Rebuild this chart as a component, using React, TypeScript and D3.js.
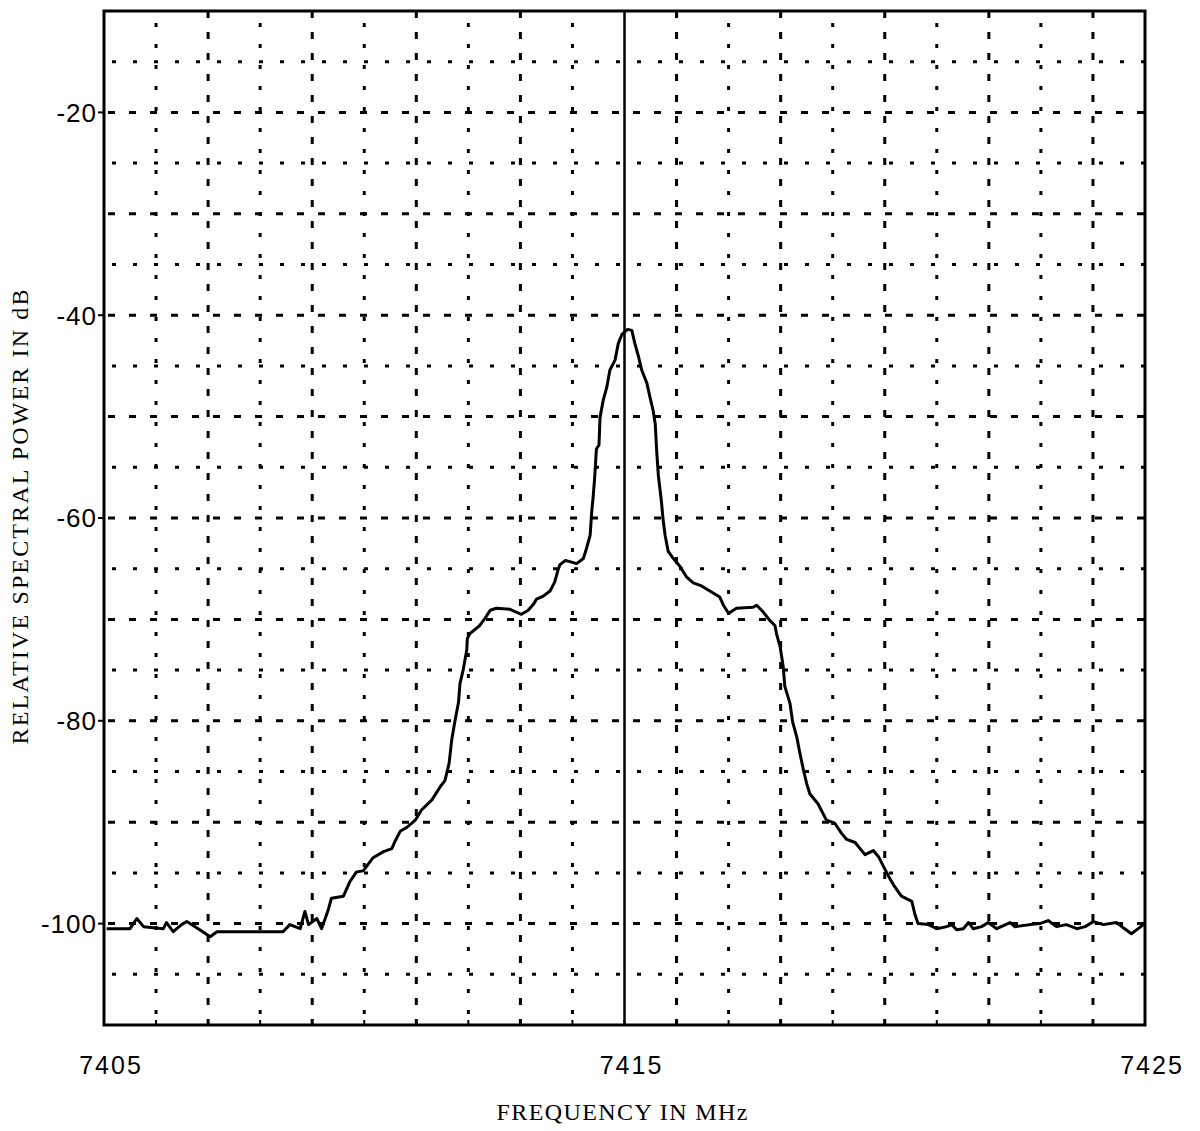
import React from "react";
import * as d3 from "d3";

const freqs: number[] = [
  7405.05, 7405.5, 7405.63, 7405.76, 7406.14, 7406.2, 7406.33, 7406.49, 7406.59, 7406.84,
  7407.04, 7407.17, 7407.48, 7407.93, 7408.44, 7408.57, 7408.77, 7408.86, 7408.93, 7409.09,
  7409.18, 7409.25, 7409.31, 7409.37, 7409.6, 7409.72, 7409.85, 7409.98, 7410.17, 7410.37,
  7410.53, 7410.59, 7410.69, 7410.82, 7410.98, 7411.1, 7411.3, 7411.46, 7411.55, 7411.63,
  7411.68, 7411.74, 7411.81, 7411.84, 7411.9, 7411.97, 7411.98, 7412.03, 7412.22, 7412.32,
  7412.42, 7412.54, 7412.8, 7412.93, 7413.02, 7413.15, 7413.25, 7413.31, 7413.44, 7413.57,
  7413.66, 7413.73, 7413.76, 7413.86, 7413.95, 7414.08, 7414.21, 7414.27, 7414.34, 7414.37,
  7414.4, 7414.43, 7414.46, 7414.51, 7414.53, 7414.59, 7414.66, 7414.72, 7414.82, 7414.88,
  7414.95, 7415.06, 7415.14, 7415.2, 7415.27, 7415.33, 7415.43, 7415.49, 7415.55, 7415.59,
  7415.62, 7415.65, 7415.71, 7415.74, 7415.78, 7415.84, 7415.94, 7416.07, 7416.19, 7416.32,
  7416.48, 7416.64, 7416.83, 7416.9, 7417.0, 7417.15, 7417.47, 7417.54, 7417.67, 7417.79,
  7417.89, 7417.92, 7417.99, 7418.05, 7418.08, 7418.18, 7418.23, 7418.31, 7418.37, 7418.44,
  7418.5, 7418.56, 7418.72, 7418.82, 7418.88, 7419.04, 7419.17, 7419.27, 7419.43, 7419.62,
  7419.78, 7419.88, 7420.0, 7420.07, 7420.17, 7420.32, 7420.52, 7420.58, 7420.64, 7420.84,
  7421.0, 7421.19, 7421.29, 7421.38, 7421.51, 7421.61, 7421.7, 7421.86, 7421.99, 7422.15,
  7422.41, 7422.5, 7422.79, 7422.98, 7423.14, 7423.3, 7423.49, 7423.69, 7423.85, 7424.01,
  7424.2, 7424.45, 7424.61, 7424.74, 7424.87, 7424.97,
];

const powers: number[] = [
  -100.5, -100.5, -99.5, -100.3, -100.5, -99.9, -100.8, -100.1, -99.8, -100.6,
  -101.3, -100.8, -100.8, -100.8, -100.8, -100.1, -100.5, -98.8, -100.1, -99.5,
  -100.5, -99.5, -98.6, -97.5, -97.3, -95.9, -94.9, -94.8, -93.5, -92.9,
  -92.6, -91.9, -90.9, -90.5, -89.8, -88.8, -87.8, -86.5, -85.9, -84.2,
  -81.9, -80.1, -78.2, -76.3, -75.0, -73.0, -71.9, -71.4, -70.6, -69.9,
  -69.1, -68.9, -69.0, -69.3, -69.5, -69.1, -68.5, -68.0, -67.7, -67.2,
  -66.3, -65.0, -64.6, -64.2, -64.3, -64.5, -64.0, -63.0, -61.7, -59.4,
  -57.8, -55.8, -53.2, -52.8, -50.1, -48.4, -47.1, -45.4, -44.4, -42.8,
  -41.9, -41.4, -41.5, -42.8, -44.1, -45.4, -46.7, -48.1, -49.4, -50.7,
  -53.5, -55.8, -58.4, -60.1, -61.7, -63.3, -64.0, -64.8, -65.8, -66.4,
  -66.7, -67.2, -67.8, -68.6, -69.4, -68.9, -68.8, -68.6, -69.3, -70.1,
  -70.6, -71.4, -72.7, -74.7, -76.6, -78.3, -80.1, -81.6, -83.2, -84.9,
  -86.2, -87.2, -88.2, -89.2, -89.8, -90.1, -91.1, -91.7, -92.0, -93.2,
  -92.8, -93.4, -94.6, -95.3, -96.2, -97.3, -97.8, -99.1, -100.0, -100.1,
  -100.5, -100.3, -100.1, -100.6, -100.5, -99.9, -100.5, -100.3, -99.9, -100.5,
  -99.9, -100.3, -100.1, -100.0, -99.7, -100.3, -100.1, -100.5, -100.3, -99.8,
  -100.1, -99.9, -100.5, -101.0, -100.5, -100.1,
];

const xTickLabels: number[] = [7405, 7415, 7425];
const yTickLabels: number[] = [-20, -40, -60, -80, -100];
const xGridDashed: number[] = [7407, 7409, 7411, 7413, 7416, 7418, 7420, 7422, 7424];
const xGridDotted: number[] = [7406, 7408, 7410, 7412, 7414, 7417, 7419, 7421, 7423];
const yGridDashed: number[] = [-20, -30, -40, -50, -60, -70, -80, -90, -100];
const yGridDotted: number[] = [-15, -25, -35, -45, -55, -65, -75, -85, -95, -105];
const xMinorTicks: number[] = d3.range(7406, 7425);

const L = 104, R = 1145, T = 11, B = 1025;

export default function App() {
  const x = d3.scaleLinear().domain([7405, 7425]).range([L, R]);
  const y = d3.scaleLinear().domain([-110, -10]).range([B, T]);
  const pts = freqs.map((f, i) => [f, powers[i]] as [number, number]);
  const line = d3
    .line<[number, number]>()
    .x((d) => x(d[0]))
    .y((d) => y(d[1]))
    .curve(d3.curveLinear);

  const dashStyle = { stroke: "#000", strokeWidth: 3, strokeDasharray: "7 14", fill: "none" };
  const dotStyle = { stroke: "#000", strokeWidth: 3, strokeDasharray: "4 17", fill: "none" };
  const serif = "'Liberation Serif', 'DejaVu Serif', serif";
  const sans = "'Liberation Sans', Arial, sans-serif";

  return (
    <svg
      width={1200}
      height={1131}
      style={{ position: "absolute", left: 0, top: 0, background: "#fff" }}
    >
      <rect x={0} y={0} width={1200} height={1131} fill="#fff" />
      {/* grid */}
      {yGridDashed.map((v) => (
        <line key={"yd" + v} x1={L + 4} x2={R} y1={y(v)} y2={y(v)} style={dashStyle} />
      ))}
      {yGridDotted.map((v) => (
        <line key={"yo" + v} x1={L + 8} x2={R} y1={y(v)} y2={y(v)} style={dotStyle} />
      ))}
      {xGridDashed.map((v) => (
        <line key={"xd" + v} x1={x(v)} x2={x(v)} y1={T} y2={B} style={dashStyle} />
      ))}
      {xGridDotted.map((v) => (
        <line key={"xo" + v} x1={x(v)} x2={x(v)} y1={T + 12} y2={B} style={dotStyle} />
      ))}
      {/* center solid line */}
      <line x1={x(7415)} x2={x(7415)} y1={T} y2={B} stroke="#000" strokeWidth={2.5} />
      {/* frame */}
      <rect x={L} y={T} width={R - L} height={B - T} fill="none" stroke="#000" strokeWidth={3} />
      {/* ticks */}
      {xMinorTicks.map((v) => (
        <line key={"bt" + v} x1={x(v)} x2={x(v)} y1={B} y2={B - 5} stroke="#000" strokeWidth={2} />
      ))}
      {yTickLabels.map((v) => (
        <line key={"lt" + v} x1={L - 6} x2={L} y1={y(v)} y2={y(v)} stroke="#000" strokeWidth={2} />
      ))}
      {/* curve */}
      <path d={line(pts) || ""} fill="none" stroke="#000" strokeWidth={3} strokeLinejoin="round" />
      {/* labels */}
      {yTickLabels.map((v) => (
        <text
          key={"yl" + v}
          x={L - 7}
          y={y(v)}
          dy="0.36em"
          textAnchor="end"
          fontFamily={sans}
          fontSize={26}
          letterSpacing={1}
          fill="#000"
        >
          {String(v)}
        </text>
      ))}
      {xTickLabels.map((v) => (
        <text
          key={"xl" + v}
          x={x(v) + 7}
          y={1074}
          textAnchor="middle"
          fontFamily={sans}
          fontSize={25}
          letterSpacing={2}
          fill="#000"
        >
          {String(v)}
        </text>
      ))}
      <text
        x={622}
        y={1120}
        textAnchor="middle"
        fontFamily={serif}
        fontSize={24}
        textLength={251}
        lengthAdjust="spacing"
        fill="#000"
      >
        FREQUENCY IN MHz
      </text>
      <text
        transform="translate(28,517) rotate(-90)"
        textAnchor="middle"
        fontFamily={serif}
        fontSize={24}
        textLength={455}
        lengthAdjust="spacing"
        fill="#000"
      >
        RELATIVE SPECTRAL POWER IN dB
      </text>
    </svg>
  );
}
